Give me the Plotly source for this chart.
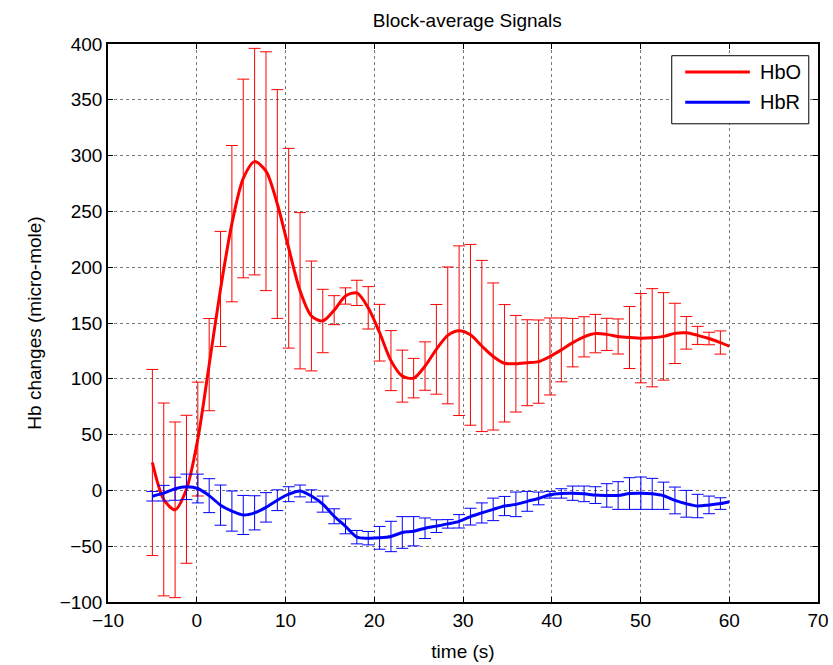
import plotly.graph_objects as go

# Time points where error bars are drawn (s)
t_err = [-5.00, -3.72, -2.44, -1.16, 0.12, 1.40, 2.68, 3.96, 5.24, 6.52,
         7.80, 9.08, 10.36, 11.64, 12.92, 14.20, 15.48, 16.76, 18.04, 19.32,
         20.60, 21.88, 23.16, 24.44, 25.72, 27.00, 28.28, 29.56, 30.84, 32.12,
         33.40, 34.68, 35.96, 37.24, 38.52, 39.80, 41.08, 42.36, 43.64, 44.92,
         46.20, 47.48, 48.76, 50.04, 51.32, 52.60, 53.88, 55.16, 56.44, 57.72,
         59.00]
t_end = 60.0

# HbO mean and error (micro-mole)
hbo_mean = [25, -8.1, -17.4, 1.0, 46, 112.7, 180.5, 239, 279.5, 294.6,
            286, 256.6, 217, 178.9, 156.3, 151.8, 161.5, 174.2, 177, 163.6,
            141.3, 116.3, 102.4, 100.6, 111.4, 126.4, 138.9, 143.1, 139.4, 129.4,
            120, 113.9, 113.5, 114.4, 115.4, 120, 125.9, 132.4, 137.6, 140.5,
            139.8, 137.9, 137, 136.4, 136.8, 138, 140.7, 141.2, 138.9, 136.1,
            132.5]
hbo_end = 129.3
hbo_err = [83.4, 86.4, 78.7, 66.3, 51, 41.3, 51.6, 70, 89, 101.5,
           107, 102.5, 89.5, 70, 49.2, 28.4, 13, 7.3, 11.3, 19,
           25.4, 26.9, 23.3, 17.7, 21.7, 40.2, 61.3, 76, 81, 76.7,
           65.9, 52.6, 43.3, 38.5, 37.3, 34.5, 28.6, 21.7, 18, 17.2,
           14.4, 15.7, 27.8, 40, 44, 39.2, 27, 14.6, 8.1, 5.6,
           10.4]

# HbR mean and error (micro-mole)
hbr_mean = [-5.2, -2.5, 1.5, 3.2, 1.7, -4.7, -13.2, -18.5, -22, -20.1,
            -15.2, -8.8, -3.4, -0.5, -5, -12.3, -23.2, -32.2, -41.9, -42.8,
            -42.5, -41.3, -37.7, -36.6, -33.9, -32, -30, -27.7, -23.5, -20.2,
            -17, -14, -12.5, -9.8, -7.2, -3.9, -2.7, -2.5, -3.1, -4.2,
            -4.5, -4.6, -2.8, -2.5, -3.1, -4.8, -9, -12, -14, -13,
            -11.8]
hbr_end = -10.1
hbr_err = [4.3, 7, 10.3, 11.4, 12.9, 15.2, 18, 18, 17.5, 15.3,
           13.2, 9.3, 6.7, 5.3, 5.5, 7.2, 6.7, 6.7, 6, 6,
           10.2, 13.6, 14.2, 13.1, 9.2, 5.7, 3.8, 6, 7.5, 9,
           10.1, 8.6, 11, 8.9, 5.7, 3, 4.2, 6.4, 7, 7.5,
           10.5, 12.4, 14.2, 14.5, 13.9, 12.2, 12, 12, 10.5, 7.9,
           5.2]

x_ticks = [-10, 0, 10, 20, 30, 40, 50, 60, 70]
y_ticks = [-100, -50, 0, 50, 100, 150, 200, 250, 300, 350, 400]

FONT = "Liberation Sans, Arial, sans-serif"
RED = "#ff0000"
BLUE = "#0000ff"

fig = go.Figure()

series = [
    ("HbO", hbo_mean, hbo_err, hbo_end, RED),
    ("HbR", hbr_mean, hbr_err, hbr_end, BLUE),
]
for name, mean, err, end, col in series:
    fig.add_trace(go.Scatter(
        x=t_err, y=mean, mode="markers",
        marker=dict(size=1, color="rgba(0,0,0,0)"),
        error_y=dict(type="data", array=err, visible=True,
                     color=col, thickness=1, width=6),
        showlegend=False, hoverinfo="skip"))
    fig.add_trace(go.Scatter(
        x=t_err + [t_end], y=mean + [end], mode="lines", name=name,
        line=dict(color=col, width=3, shape="spline", smoothing=0.8),
        showlegend=False))

axis_common = dict(
    showline=True, linecolor="black", linewidth=1.5, mirror="ticks",
    ticks="inside", ticklen=5, tickcolor="black", tickwidth=1,
    showgrid=True, gridcolor="#777777", griddash="dot", gridwidth=1,
    zeroline=False, automargin=False,
    tickfont=dict(family=FONT, size=19, color="black"),
)

fig.update_xaxes(range=[-10, 70], tickvals=x_ticks,
                 title=dict(text="time (s)", font=dict(family=FONT, size=19, color="black"), standoff=15),
                 **axis_common)
fig.update_yaxes(range=[-100, 400], tickvals=y_ticks,
                 title=dict(text="Hb changes (micro-mole)", font=dict(family=FONT, size=19, color="black"), standoff=13),
                 **axis_common)

# Legend drawn as a boxed key in the upper right corner
lx0, lx1, ly0, ly1 = 0.794, 0.987, 0.857, 0.979
fig.add_shape(type="rect", xref="paper", yref="paper", x0=lx0, x1=lx1, y0=ly0, y1=ly1,
              line=dict(color="black", width=1), fillcolor="white", layer="above")
for i, (name, _, _, _, col) in enumerate(series):
    yy = 0.950 - i * 0.0545
    fig.add_shape(type="line", xref="paper", yref="paper", x0=0.813, x1=0.904, y0=yy, y1=yy,
                  line=dict(color=col, width=3), layer="above")
    fig.add_annotation(xref="paper", yref="paper", x=0.916, y=yy, text=name, showarrow=False,
                       xanchor="left", yanchor="middle",
                       font=dict(family=FONT, size=20, color="black"))

fig.update_layout(
    width=833, height=665,
    margin=dict(l=108, r=15, t=44, b=63),
    paper_bgcolor="white", plot_bgcolor="white",
    title=dict(text="Block-average Signals", x=0.561, xanchor="center",
               y=1 - 20 / 665, yanchor="middle", yref="container",
               font=dict(family=FONT, size=19, color="black"), automargin=False),
    showlegend=False,
)

fig.write_html("out.html")
